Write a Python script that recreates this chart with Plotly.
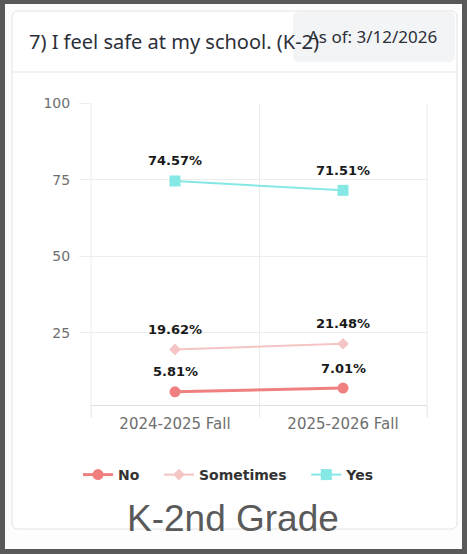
import plotly.graph_objects as go

categories = ["2024-2025 Fall", "2025-2026 Fall"]
no_vals = [5.81, 7.01]
sometimes_vals = [19.62, 21.48]
yes_vals = [74.57, 71.51]
y_ticks = [25, 50, 75, 100]

W, H = 467, 554
L, R, T, B = 91, 427, 103, 405


def X(px):
    return (px - L) / (R - L)


def Y(py):
    return (B - py) / (B - T)


def rrect(x0, y0, x1, y1, r):
    return (f"M {X(x0 + r)} {Y(y0)} L {X(x1 - r)} {Y(y0)} Q {X(x1)} {Y(y0)} {X(x1)} {Y(y0 + r)} "
            f"L {X(x1)} {Y(y1 - r)} Q {X(x1)} {Y(y1)} {X(x1 - r)} {Y(y1)} "
            f"L {X(x0 + r)} {Y(y1)} Q {X(x0)} {Y(y1)} {X(x0)} {Y(y1 - r)} "
            f"L {X(x0)} {Y(y0 + r)} Q {X(x0)} {Y(y0)} {X(x0 + r)} {Y(y0)} Z")


NB = "\u00a0"
series = [
    ("No", no_vals, "#f08080", "circle", 11, 3),
    ("Sometimes", sometimes_vals, "#f5c4c4", "diamond", 9, 2),
    ("Yes", yes_vals, "#86e8e4", "square", 11, 2),
]

fig = go.Figure()
label_annotations = []
for name, vals, color, sym, msize, lw in series:
    fig.add_trace(go.Scatter(x=categories, y=vals, name=name + NB * 3, mode="lines+markers",
                             line=dict(color=color, width=lw),
                             marker=dict(symbol=sym, size=msize, color=color)))
    for c, v in zip(categories, vals):
        label_annotations.append(dict(
            x=c, y=v, xref="x", yref="y", text=f"{v:.2f}%", showarrow=False,
            yshift=20, xanchor="center", yanchor="middle",
            font=dict(family="DejaVu Sans", size=13, color="#1a1a1a", weight="bold")))

shapes = [
    dict(type="rect", xref="paper", yref="paper", x0=X(5), x1=X(462), y0=Y(4), y1=Y(549),
         fillcolor="#fdfdfd", line=dict(width=0), layer="below"),
    dict(type="path", xref="paper", yref="paper", path=rrect(12, 11, 457, 529, 6),
         fillcolor="#ffffff", line=dict(color="#e3e3e3", width=1), layer="below"),
    dict(type="path", xref="paper", yref="paper", path=rrect(293, 12, 455, 62, 6),
         fillcolor="#f3f4f6", line=dict(width=0), layer="below"),
    dict(type="line", xref="paper", yref="paper", x0=X(12), x1=X(457), y0=Y(72), y1=Y(72),
         line=dict(color="#e6e6e6", width=1), layer="below"),
    dict(type="line", xref="paper", yref="paper", x0=0, x1=0, y0=Y(417), y1=1,
         line=dict(color="#ececec", width=1), layer="below"),
    dict(type="line", xref="paper", yref="paper", x0=1, x1=1, y0=Y(417), y1=1,
         line=dict(color="#ececec", width=1), layer="below"),
]

annotations = [
    dict(text="7) I feel safe at my school. (K-2)", xref="paper", yref="paper",
         x=X(27), y=Y(42), xanchor="left", yanchor="middle", showarrow=False,
         font=dict(family="Noto Sans", size=20, color="#2b2f38")),
    dict(text="As of: 3/12/2026", xref="paper", yref="paper",
         x=X(306), y=Y(36), xanchor="left", yanchor="middle", showarrow=False,
         font=dict(family="Noto Sans", size=17, color="#2b2f38")),
    dict(text="K-2nd Grade", xref="paper", yref="paper",
         x=X(233), y=Y(518), xanchor="center", yanchor="middle", showarrow=False,
         font=dict(family="Liberation Sans", size=37, color="#5a5a5a")),
] + label_annotations

fig.update_layout(
    width=W, height=H,
    margin=dict(l=L, r=W - R, t=T, b=H - B, pad=0),
    paper_bgcolor="#595959",
    plot_bgcolor="rgba(0,0,0,0)",
    shapes=shapes,
    annotations=annotations,
    showlegend=True,
    legend=dict(orientation="h", x=X(236), xanchor="center", y=Y(475), yanchor="middle",
                font=dict(family="DejaVu Sans", size=14, color="#333333", weight="bold"),
                itemwidth=30, bgcolor="rgba(0,0,0,0)"),
    xaxis=dict(type="category", tickson="boundaries", showgrid=True, gridcolor="#ececec",
               gridwidth=1, ticks="outside", ticklen=12, tickcolor="#ececec",
               showline=True, linecolor="#e0e0e0", linewidth=1,
               tickfont=dict(family="DejaVu Sans", size=15, color="#6e6e6e"),
               ticklabelstandoff=5,
               range=[-0.5, 1.5], fixedrange=True),
    yaxis=dict(range=[1.5, 100], tickvals=y_ticks, showgrid=True, gridcolor="#ececec",
               gridwidth=1, ticks="outside", ticklen=11, tickcolor="#ececec",
               showline=False, zeroline=False,
               tickfont=dict(family="DejaVu Sans", size=14, color="#6e6e6e"),
               ticklabelstandoff=6),
)

fig.write_html("out.html", config={"displayModeBar": False},
               post_script="document.body.style.margin='0';document.body.style.overflow='hidden';")
